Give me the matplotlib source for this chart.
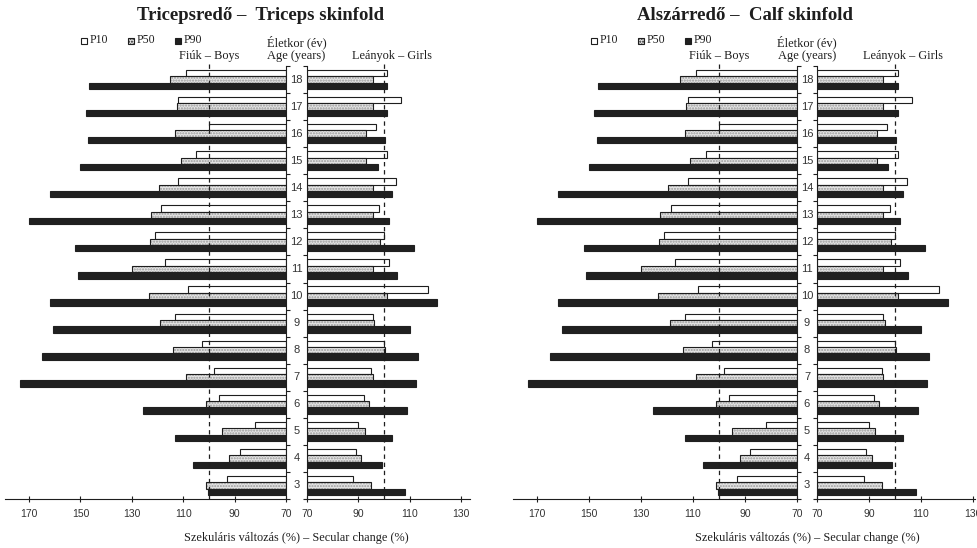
import matplotlib
matplotlib.use("Agg")
import numpy as np
from matplotlib import pyplot as plt
from matplotlib.patches import Rectangle

# ages 3..18 (bottom to top)
ages = list(range(3, 19))

# Tricepsredő - secular change (%) by percentile
tri_boys_p10 = [93, 88, 82, 96, 98, 102.5, 113, 108, 117, 121, 118.5, 112, 105, 100, 112, 109]
tri_boys_p50 = [101, 92, 95, 101, 109, 114, 119, 123.5, 130, 123, 122.5, 119.5, 111, 113, 112.5, 115]
tri_boys_p90 = [100.5, 106, 113, 125.5, 173.5, 165, 160.5, 162, 151, 152, 170, 162, 150, 147, 148, 146.5]
tri_girls_p10 = [88, 89, 90, 92, 95, 100, 95.5, 117, 102, 100, 98, 104.5, 101, 97, 106.5, 101]
tri_girls_p50 = [95, 91, 92.5, 94, 95.5, 100.5, 96, 101, 95.5, 98.5, 95.5, 95.5, 93, 93, 95.5, 95.5]
tri_girls_p90 = [108, 99, 103, 109, 112.5, 113, 110, 120.5, 105, 111.5, 102, 103, 97.5, 100.5, 101, 101]

# Alszárredő - the printed panel shows the same bars
calf_boys_p10 = list(tri_boys_p10)
calf_boys_p50 = list(tri_boys_p50)
calf_boys_p90 = list(tri_boys_p90)
calf_girls_p10 = list(tri_girls_p10)
calf_girls_p50 = list(tri_girls_p50)
calf_girls_p90 = list(tri_girls_p90)

boys_ticks = [170, 150, 130, 110, 90, 70]
girls_ticks = [70, 90, 110, 130]

W, H = 978, 548
SERIF = ["Liberation Serif", "DejaVu Serif"]
SANS = ["Liberation Sans", "DejaVu Sans"]
INK = "#1e1e1e"

fig = plt.figure(figsize=(W / 100, H / 100), dpi=100)


def px_axes(x0, x1, y0, y1):
    return fig.add_axes([x0 / W, 1 - y1 / H, (x1 - x0) / W, (y1 - y0) / H])


def draw_bars(ax, y, p10, p50, p90):
    h = 0.235
    v10 = np.array(p10) - 70
    v50 = np.array(p50) - 70
    v90 = np.array(p90) - 70
    ax.barh(y + h, v10, height=h, left=70, color="white", edgecolor=INK, linewidth=0.8)
    ax.barh(y, v50, height=h, left=70, color="#e4e4e4", edgecolor="#999999",
            linewidth=0, hatch="......")
    ax.barh(y, v50, height=h, left=70, color="none", edgecolor=INK, linewidth=0.8)
    ax.barh(y - h, v90, height=h, left=70, color="#202020", edgecolor="#202020", linewidth=0.8)


def panel(title, title_x, bx0, bx1, gx0, gx1, scale, leg_x, data):
    b10, b50, b90, g10, g50, g90 = data
    y0, y1 = 66, 499
    y = np.array(ages, dtype=float)

    axb = px_axes(bx0, bx1, y0, y1)
    axg = px_axes(gx0, gx1, y0, y1)

    axb.set_xlim(70 + (bx1 - bx0) / scale, 70)
    axg.set_xlim(70, 70 + (gx1 - gx0) / scale)

    draw_bars(axb, y, b10, b50, b90)
    draw_bars(axg, y, g10, g50, g90)

    for ax, side, ticks in ((axb, "right", boys_ticks), (axg, "left", girls_ticks)):
        ax.set_ylim(2.5, 18.5)
        ax.set_facecolor("none")
        for s in ("top", "left", "right", "bottom"):
            ax.spines[s].set_visible(s in ("bottom", side))
            ax.spines[s].set_linewidth(0.8)
            ax.spines[s].set_color(INK)
        ax.yaxis.set_ticks_position(side)
        ax.set_yticks(np.arange(2.5, 19, 1.0))
        ax.tick_params(axis="y", direction="out", length=3, width=0.8, labelleft=False,
                       labelright=False, color=INK)
        ax.set_xticks(ticks)
        ax.tick_params(axis="x", direction="inout", length=4, width=0.8, pad=5,
                       labelsize=7.5, labelcolor="#333333", color=INK)
        for lab in ax.get_xticklabels():
            lab.set_fontfamily(SANS)
        ax.axvline(100, ymin=0, ymax=1.012, color=INK, linestyle=(0, (3.5, 3)),
                   linewidth=0.9, clip_on=False)

    # age labels in the centre column
    cx = (bx1 + gx0) / 2
    xa = (cx - bx0) / (bx1 - bx0)
    for a in ages:
        axb.text(xa, a, str(a), transform=axb.get_yaxis_transform(), ha="center",
                 va="center", fontsize=8, family=SANS, color="#333333", clip_on=False)

    fig.text(title_x / W, 1 - 15 / H, title, ha="center", va="center", fontsize=13.5,
             fontweight="bold", family=SERIF, color=INK)
    fig.text(cx / W, 1 - 42 / H, "Életkor (év)", ha="center", va="center",
             fontsize=9, family=SERIF, color=INK)
    fig.text(cx / W, 1 - 56 / H, "Age (years)", ha="center", va="center",
             fontsize=9, family=SERIF, color=INK)
    fig.text((bx1 - 30 * scale) / W, 1 - 56 / H, "Fiúk – Boys", ha="center",
             va="center", fontsize=8.8, family=SERIF, color=INK)
    fig.text((gx0 + 30 * scale + 8) / W, 1 - 56 / H, "Leányok – Girls", ha="center",
             va="center", fontsize=8.8, family=SERIF, color=INK)
    fig.text(cx / W, 1 - 538 / H, "Szekuláris változás (%) – Secular change (%)",
             ha="center", va="center", fontsize=8.8, family=SERIF, color=INK)

    # legend
    styles = [("white", None, "P10"), ("#e4e4e4", "......", "P50"), ("#202020", None, "P90")]
    for i, (fc, hatch, lab) in enumerate(styles):
        lx = leg_x + i * 47
        fig.add_artist(Rectangle((lx / W, 1 - 44 / H), 6 / W, 6 / H, transform=fig.transFigure,
                                 facecolor=fc, edgecolor=INK, linewidth=0.8, hatch=hatch))
        fig.text((lx + 9) / W, 1 - 40 / H, lab, ha="left", va="center", fontsize=8.5,
                 family=SERIF, color=INK)


panel("Tricepsredő –  Triceps skinfold", 261, 5, 286, 307, 470, 2.57, 81,
      (tri_boys_p10, tri_boys_p50, tri_boys_p90, tri_girls_p10, tri_girls_p50, tri_girls_p90))
panel("Alszárredő –  Calf skinfold", 745, 513, 797, 817, 975, 2.6, 591,
      (calf_boys_p10, calf_boys_p50, calf_boys_p90, calf_girls_p10, calf_girls_p50, calf_girls_p90))

fig.savefig("out.png", dpi=100)
